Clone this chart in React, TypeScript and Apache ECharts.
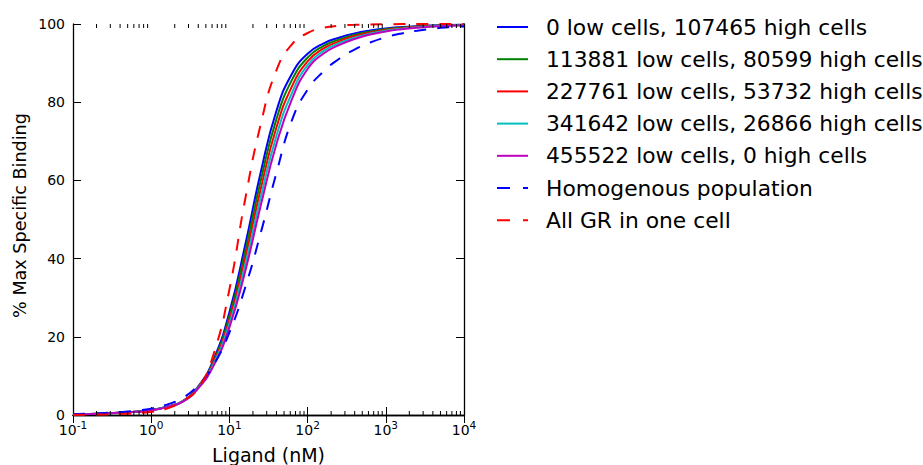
import React, { useEffect, useRef } from "react";
import * as echarts from "echarts";

// Ligand concentrations (nM), read every 0.2 decade
const ligandNM = [0.1, 0.158, 0.251, 0.398, 0.631, 1, 1.585, 2.512, 3.981, 6.31, 10, 15.85, 25.12, 39.81, 63.1, 100, 158.5, 251.2, 398.1, 631, 1000, 1585, 2512, 3981, 6310, 10000];

// % max specific binding
const low0 = [0.17, 0.26, 0.39, 0.58, 0.86, 1.27, 2.12, 3.52, 7.24, 14.3, 26.3, 43.3, 62.0, 77.7, 87.3, 92.4, 95.0, 96.5, 97.6, 98.35, 98.87, 99.22, 99.47, 99.63, 99.75, 99.83];
const low113881 = [0.17, 0.26, 0.39, 0.57, 0.85, 1.26, 2.1, 3.48, 7.13, 13.9, 25.3, 41.6, 59.9, 75.6, 85.7, 91.4, 94.35, 96.0, 97.2, 98.1, 98.7, 99.08, 99.37, 99.56, 99.7, 99.79];
const low227761 = [0.17, 0.25, 0.38, 0.57, 0.84, 1.24, 2.07, 3.44, 7.02, 13.5, 24.35, 39.95, 57.75, 73.45, 84.05, 90.45, 93.7, 95.55, 96.9, 97.8, 98.5, 98.94, 99.27, 99.49, 99.65, 99.76];
const low341642 = [0.17, 0.25, 0.37, 0.56, 0.83, 1.22, 2.05, 3.4, 6.91, 13.1, 23.4, 38.3, 55.6, 71.3, 82.4, 89.5, 93.05, 95.1, 96.5, 97.55, 98.3, 98.8, 99.16, 99.41, 99.59, 99.72];
const low455522 = [0.17, 0.25, 0.37, 0.55, 0.82, 1.21, 2.02, 3.36, 6.8, 12.7, 22.4, 36.6, 53.5, 69.2, 80.8, 88.5, 92.4, 94.6, 96.15, 97.3, 98.1, 98.66, 99.06, 99.34, 99.54, 99.68];
const homogenous = [0.22, 0.33, 0.5, 0.74, 1.1, 1.63, 2.66, 4.35, 7.59, 12.9, 21.1, 32.5, 46.5, 61.8, 75.4, 83.2, 87.8, 91.05, 93.47, 95.26, 96.6, 97.59, 98.29, 98.79, 99.14, 99.39];
const allGRoneCell = [0.04, 0.075, 0.136, 0.25, 0.45, 0.82, 1.63, 3.62, 6.78, 15.7, 32.1, 55.0, 74.3, 88.1, 94.8, 97.7, 99.0, 99.55, 99.78, 99.89, 99.94, 99.97, 99.98, 99.99, 99.99, 100];

const seriesNames = [
  "0 low cells, 107465 high cells",
  "113881 low cells, 80599 high cells",
  "227761 low cells, 53732 high cells",
  "341642 low cells, 26866 high cells",
  "455522 low cells, 0 high cells",
  "Homogenous population",
  "All GR in one cell",
];
const seriesValues = [low0, low113881, low227761, low341642, low455522, homogenous, allGRoneCell];
const seriesColors = ["#0000ff", "#008000", "#ff0000", "#00bfbf", "#bf00bf", "#0000ff", "#ff0000"];
const seriesDashed = [false, false, false, false, false, true, true];

const minorTicks = [
  0.2, 0.3, 0.4, 0.5, 0.6, 0.7, 0.8, 0.9,
  2, 3, 4, 5, 6, 7, 8, 9,
  20, 30, 40, 50, 60, 70, 80, 90,
  200, 300, 400, 500, 600, 700, 800, 900,
  2000, 3000, 4000, 5000, 6000, 7000, 8000, 9000,
];

const FONT = "DejaVu Sans";
const SOLID_ICON = "path://M0,0h31v2h-31z";
const DASH_ICON = "path://M0,0h13v2h-13zM26,0h5v2h-5z";

export default function App() {
  const ref = useRef<HTMLDivElement>(null);
  useEffect(() => {
    document.body.style.margin = "0";
    const chart = echarts.init(ref.current!, null, { renderer: "svg" });
    const lineSeries = seriesNames.map((name, i) => ({
      name,
      type: "line",
      xAxisIndex: 0,
      yAxisIndex: 0,
      data: ligandNM.map((x, j) => [x, seriesValues[i][j]]),
      showSymbol: false,
      symbol: "none",
      smooth: 0.5,
      color: seriesColors[i],
      itemStyle: { color: seriesColors[i] },
      lineStyle: {
        color: seriesColors[i],
        width: 2,
        type: seriesDashed[i] ? [12, 11] : "solid",
      },
      z: 2 + i,
    }));
    const tickAxisCommon = {
      axisLine: { show: true, lineStyle: { color: "#000", width: 1.3 } },
      axisTick: { show: true, inside: true, length: 8, lineStyle: { color: "#000", width: 1 } },
      minorTick: { show: false },
      splitLine: { show: false },
    };
    chart.setOption({
      animation: false,
      backgroundColor: "#fff",
      textStyle: { fontFamily: FONT },
      grid: { left: 73, top: 24, width: 391, height: 391, containLabel: false, outerBoundsMode: "none" },
      xAxis: [
        {
          type: "log",
          logBase: 10,
          min: 0.1,
          max: 10000,
          position: "bottom",
          ...tickAxisCommon,
          name: "Ligand (nM)",
          nameLocation: "middle",
          nameGap: 30,
          nameTextStyle: { fontFamily: FONT, fontSize: 19, color: "#000" },
          axisLabel: {
            show: true,
            margin: 4,
            color: "#000",
            formatter: (v: number) => `{b|10}{s|${Math.round(Math.log10(v))}}`,
            rich: {
              b: { fontFamily: FONT, fontSize: 14, lineHeight: 18, color: "#000", verticalAlign: "bottom" },
              s: { fontFamily: FONT, fontSize: 10.5, lineHeight: 8, color: "#000", verticalAlign: "top" },
            },
          },
        },
        {
          type: "log",
          logBase: 10,
          min: 0.1,
          max: 10000,
          position: "top",
          ...tickAxisCommon,
          axisLabel: { show: false },
        },
      ],
      yAxis: [
        {
          type: "value",
          min: 0,
          max: 100,
          interval: 20,
          position: "left",
          ...tickAxisCommon,
          name: "% Max Specific Binding",
          nameLocation: "middle",
          nameGap: 44,
          nameTextStyle: { fontFamily: FONT, fontSize: 17.6, color: "#000", padding: [0, 0, 0, 8] },
          axisLabel: { show: true, margin: 8, color: "#000", fontFamily: FONT, fontSize: 14 },
        },
        {
          type: "value",
          min: 0,
          max: 100,
          interval: 20,
          position: "right",
          ...tickAxisCommon,
          axisLabel: { show: false },
        },
      ],
      legend: {
        show: true,
        orient: "vertical",
        left: 492,
        top: 11,
        itemWidth: 31,
        itemHeight: 2,
        itemGap: 10.2,
        data: seriesNames.map((n, i) => ({
          name: n,
          icon: seriesDashed[i] ? DASH_ICON : SOLID_ICON,
          itemStyle: { color: seriesColors[i] },
        })),
        textStyle: { fontFamily: FONT, fontSize: 21.8, color: "#000", lineHeight: 22, padding: [0, 0, 0, 13] },
        selectedMode: false,
      },
      series: [
        ...lineSeries,
        {
          type: "custom",
          name: "minorTicks",
          xAxisIndex: 0,
          yAxisIndex: 0,
          silent: true,
          clip: false,
          data: minorTicks.map((v) => [v, 50]),
          renderItem: (params: any, api: any) => {
            const x = api.coord([api.value(0), 50])[0];
            const cs = params.coordSys;
            const bottom = cs.y + cs.height;
            return {
              type: "group",
              children: [
                { type: "line", shape: { x1: x, y1: bottom, x2: x, y2: bottom - 4 }, style: { stroke: "#000", lineWidth: 1 } },
                { type: "line", shape: { x1: x, y1: cs.y, x2: x, y2: cs.y + 4 }, style: { stroke: "#000", lineWidth: 1 } },
              ],
            };
          },
          z: 10,
        },
      ],
    });
    return () => chart.dispose();
  }, []);
  return <div ref={ref} style={{ width: 923, height: 465 }} />;
}
